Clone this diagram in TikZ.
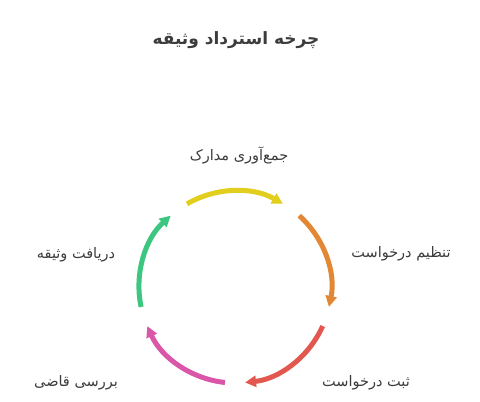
\documentclass[tikz,border=0pt]{standalone}
\usepackage{fontspec}
\newfontfamily\arabicfont[Script=Arabic]{DejaVu Sans}
\TeXXeTstate=1
\usepackage{tikz}
\usetikzlibrary{arrows.meta}
\definecolor{TextColor}{RGB}{60,60,60}
\definecolor{StepYellow}{RGB}{226,206,28}
\definecolor{StepOrange}{RGB}{226,135,52}
\definecolor{StepRed}{RGB}{226,88,78}
\definecolor{StepPink}{RGB}{218,86,168}
\definecolor{StepGreen}{RGB}{60,198,128}
\tikzstyle{steplabel} = [text=TextColor, font=\arabicfont\fontsize{14.5}{17}\selectfont, inner sep=0pt]
\tikzstyle{cyclearrow} = [line width=5pt, -{Triangle[length=11pt,width=11pt]}]

\begin{document}
\begin{tikzpicture}[x=1pt, y=1pt]
    \useasboundingbox (0,0) rectangle (480,402);
    \coordinate (center) at (235,115);
    % title
    \node[text=TextColor, font=\arabicfont\bfseries\fontsize{17}{20}\selectfont] (title) at (236,362) {\beginR چرخه استرداد وثیقه\endR};
    % arcs of the cycle
    \draw[cyclearrow, StepYellow] ([shift={(120:96)}]center) arc[start angle=120, end angle=60, radius=96];
    \draw[cyclearrow, StepOrange] ([shift={(48:96)}]center) arc[start angle=48, end angle=-12, radius=96];
    \draw[cyclearrow, StepRed] ([shift={(-24:96)}]center) arc[start angle=-24, end angle=-84, radius=96];
    \draw[cyclearrow, StepPink] ([shift={(-96:96)}]center) arc[start angle=-96, end angle=-156, radius=96];
    \draw[cyclearrow, StepGreen] ([shift={(192:96)}]center) arc[start angle=192, end angle=132, radius=96];
    % step labels
    \node[steplabel] (collect) at (239,247) {\beginR جمع‌آوری مدارک\endR};
    \node[steplabel] (prepare) at (401,148) {\beginR تنظیم درخواست\endR};
    \node[steplabel] (register) at (366,19) {\beginR ثبت درخواست\endR};
    \node[steplabel] (review) at (76,19) {\beginR بررسی قاضی\endR};
    \node[steplabel] (receive) at (76,147) {\beginR دریافت وثیقه\endR};
\end{tikzpicture}
\end{document}
